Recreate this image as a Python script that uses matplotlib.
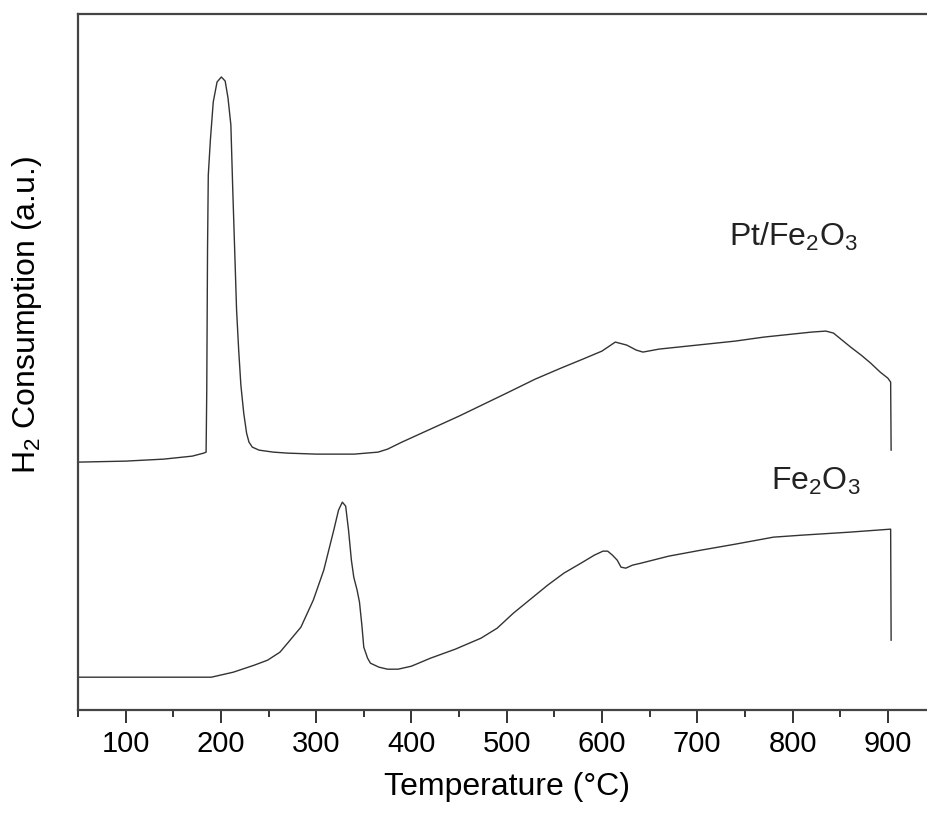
import matplotlib.pyplot as plt
from matplotlib.ticker import MultipleLocator

plt.rcParams['font.family'] = ['Liberation Sans', 'DejaVu Sans']
plt.rcParams['mathtext.default'] = 'regular'

# Pt/Fe2O3 trace (temperature in C, intensity in a.u.)
pt_temp = [50, 100, 140, 170, 182, 184.5, 185.2, 186, 186.8, 189, 192, 196,
           200.5, 204.5, 207.5, 210.5, 212.5, 214.5, 216.5, 218.7, 221, 224,
           227, 229.5, 233, 240, 255, 270, 300, 340, 365, 375, 390, 420, 450,
           500, 530, 557, 580, 600, 614, 626, 636, 643, 660, 700, 740, 770,
           800, 820, 835, 843, 852, 861, 872, 882, 892, 900, 903, 903.5]
pt_int = [248, 249, 251, 254, 257, 258, 320, 460, 535, 570, 608, 628,
          633, 629, 612, 585, 520, 460, 400, 360, 325, 297,
          277, 268, 263, 260, 258, 257, 256, 256, 258, 261, 268, 281, 294,
          317, 331, 342, 351, 359, 368, 365, 360, 358, 361, 365, 369, 373,
          376, 378, 379, 377, 370, 363, 355, 347, 338, 332, 328, 260]

# Fe2O3 trace
fe_temp = [50, 150, 190, 213, 235, 249, 262, 270, 284, 297, 308, 318.5,
           323.5, 327.5, 331, 334, 337, 339.5, 343, 345.5, 348, 350, 354,
           357, 366, 375, 386, 400, 420, 446, 473, 490, 507, 525, 543, 560,
           578, 592, 601, 606, 611, 616, 620, 625, 632, 641, 670, 704, 740,
           780, 810, 860, 903, 903.5]
fe_int = [33, 33, 33, 38, 45, 50, 58, 67, 83, 110, 140, 180,
          200, 208, 204, 180, 150, 133, 120, 108, 85, 63, 52,
          47, 43, 41, 41, 44, 52, 61, 72, 82, 97, 111, 125, 137,
          147, 155, 159, 159, 155, 150, 143, 142, 145, 147, 154, 160, 166,
          173, 175, 178, 181, 70]

x_ticks = [100, 200, 300, 400, 500, 600, 700, 800, 900]

fig = plt.figure(figsize=(9.28, 8.22), dpi=100)
ax = fig.add_axes([0.084, 0.136, 0.924, 0.847])

ax.plot(pt_temp, pt_int, color='#333333', lw=1.0)
ax.plot(fe_temp, fe_int, color='#333333', lw=1.0)

ax.text(733, 464, 'Pt/Fe$_2$O$_3$', fontsize=23, va='baseline', color='#222222')
ax.text(777, 220, 'Fe$_2$O$_3$', fontsize=23, va='baseline', color='#222222')

ax.set_xlim(50, 950)
ax.set_ylim(0, 696)
ax.set_xticks(x_ticks)
ax.xaxis.set_minor_locator(MultipleLocator(50))
ax.set_yticks([])
ax.tick_params(axis='x', which='major', length=9, width=1.4, labelsize=21,
               color='#333333', pad=5)
ax.tick_params(axis='x', which='minor', length=5, width=1.4, color='#333333')

for s in ax.spines.values():
    s.set_linewidth(1.6)
    s.set_color('#444444')

ax.set_xlabel('Temperature (°C)', fontsize=23, labelpad=10)
fig.text(0.029, 0.617, 'H$_2$ Consumption (a.u.)', fontsize=23, rotation=90,
         ha='center', va='center')

fig.savefig('out.png', dpi=100)
